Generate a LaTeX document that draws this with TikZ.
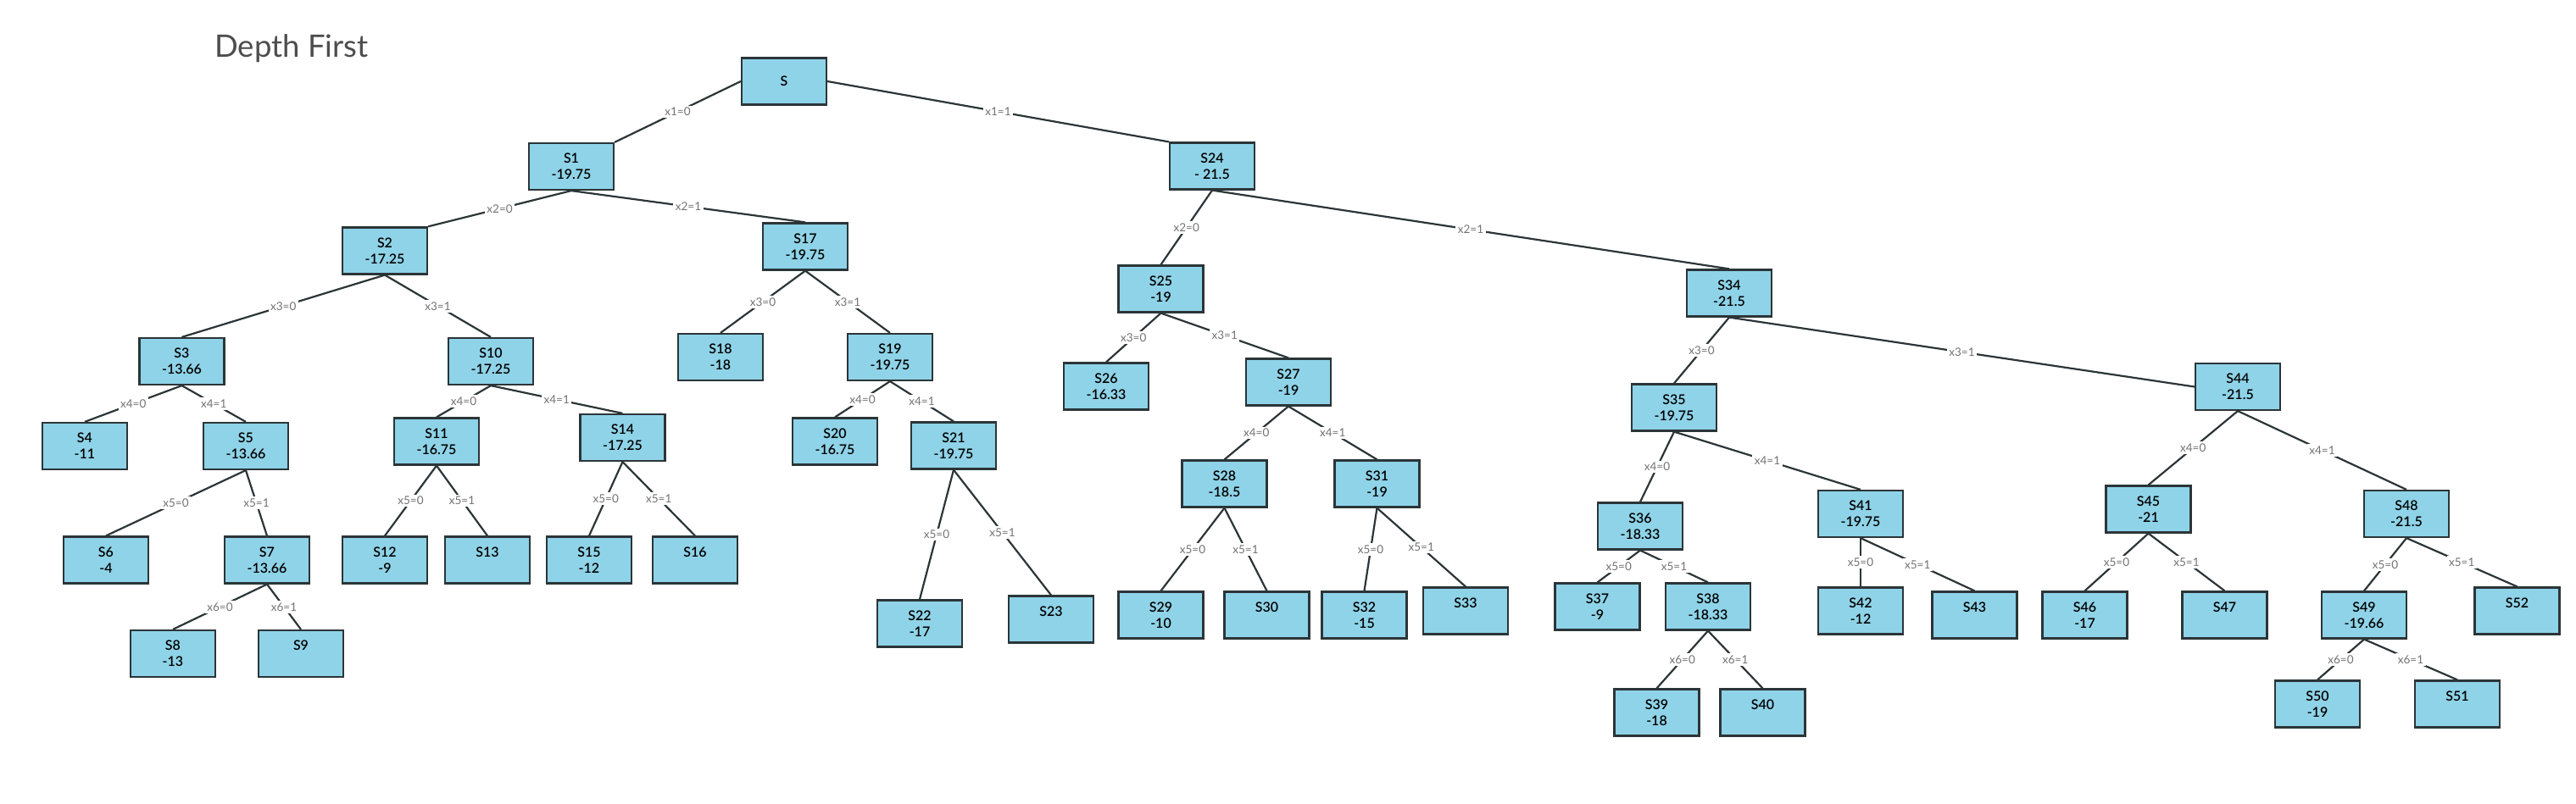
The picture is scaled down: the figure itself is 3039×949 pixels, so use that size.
\documentclass[tikz,border=0pt]{standalone}
\usepackage{fontspec}
\setmainfont{Lato}
\newfontfamily\semib{Lato Semibold}
\definecolor{bl}{RGB}{143,211,232}
\definecolor{bd}{RGB}{43,53,56}
\definecolor{lbc}{RGB}{115,115,115}
\definecolor{ttc}{RGB}{77,77,77}
\tikzset{
  st/.style={draw=bd, fill=bl, line width=2.2pt, minimum width=100pt, minimum height=55pt,
    inner sep=0pt, align=center, font=\semib\fontsize{16}{19}\selectfont, text=black},
  ed/.style={draw=bd, line width=2.2pt},
  lb/.style={fill=white, text=lbc, font=\fontsize{13.5}{15}\selectfont, inner sep=2.5pt}
}
\begin{document}
\begin{tikzpicture}[x=1pt,y=-1pt]
\useasboundingbox (0,0) rectangle (3039,949);
\node[anchor=base west, text=ttc, font=\fontsize{36.5}{42}\selectfont, inner sep=0pt] (title) at (253,68) {Depth First};
% level 0-1
\node[st] (S) at (925,96) {S};
\node[st] (S1) at (674,196.5) {S1\\-19.75};
\node[st] (S24) at (1430,196) {S24\\- 21.5};
% level 2
\node[st] (S2) at (454,296) {S2\\-17.25};
\node[st] (S17) at (950,291) {S17\\-19.75};
\node[st] (S25) at (1369.5,341) {S25\\-19};
\node[st] (S34) at (2040,346) {S34\\-21.5};
% level 3
\node[st] (S3) at (214.5,426.5) {S3\\-13.66};
\node[st] (S10) at (579,426.5) {S10\\-17.25};
\node[st] (S18) at (850,421.5) {S18\\-18};
\node[st] (S19) at (1050,421.5) {S19\\-19.75};
\node[st] (S26) at (1305,456) {S26\\-16.33};
\node[st] (S27) at (1520,451) {S27\\-19};
\node[st] (S35) at (1975,481) {S35\\-19.75};
\node[st] (S44) at (2640,456.5) {S44\\-21.5};
% level 4
\node[st] (S4) at (100,526.5) {S4\\-11};
\node[st] (S5) at (290,526.5) {S5\\-13.66};
\node[st] (S11) at (515,521) {S11\\-16.75};
\node[st] (S14) at (734.5,516.5) {S14\\-17.25};
\node[st] (S20) at (985,521) {S20\\-16.75};
\node[st] (S21) at (1125,526) {S21\\-19.75};
\node[st] (S28) at (1444.5,571) {S28\\-18.5};
\node[st] (S31) at (1624.5,571) {S31\\-19};
\node[st] (S36) at (1935,621) {S36\\-18.33};
\node[st] (S41) at (2195,606.5) {S41\\-19.75};
\node[st] (S45) at (2534.5,601) {S45\\-21};
\node[st] (S48) at (2839,606.5) {S48\\-21.5};
% level 5
\node[st] (S6) at (125,661) {S6\\-4};
\node[st] (S7) at (315,661) {S7\\-13.66};
\node[st] (S12) at (454,661) {S12\\-9};
\node[st] (S13) at (575,661) {S13\\~};
\node[st] (S15) at (695,661) {S15\\-12};
\node[st] (S16) at (820,661) {S16\\~};
\node[st] (S22) at (1085,736) {S22\\-17};
\node[st] (S23) at (1240,731) {S23\\~};
\node[st] (S29) at (1369.5,726) {S29\\-10};
\node[st] (S30) at (1494.5,726) {S30\\~};
\node[st] (S32) at (1609.5,726) {S32\\-15};
\node[st] (S33) at (1729,721) {S33\\~};
\node[st] (S37) at (1884.5,716) {S37\\-9};
\node[st] (S38) at (2015,716) {S38\\-18.33};
\node[st] (S42) at (2195,721) {S42\\-12};
\node[st] (S43) at (2329.5,726) {S43\\~};
\node[st] (S46) at (2459.5,726) {S46\\-17};
\node[st] (S47) at (2624.5,726) {S47\\~};
\node[st] (S49) at (2789,726) {S49\\-19.66};
\node[st] (S52) at (2969.5,721) {S52\\~};
% level 6
\node[st] (S8) at (204,771.5) {S8\\-13};
\node[st] (S9) at (355,771.5) {S9\\~};
\node[st] (S39) at (1954.5,841) {S39\\-18};
\node[st] (S40) at (2079.5,841) {S40\\~};
\node[st] (S50) at (2734,831) {S50\\-19};
\node[st] (S51) at (2899,831) {S51\\~};
% connectors
\draw[ed] (S.west) -- node[lb]{x1=0} (S1.north east);
\draw[ed] (S.east) -- node[lb]{x1=1} (S24.north west);
\draw[ed] (S1.south) -- node[lb]{x2=0} (S2.north east);
\draw[ed] (S1.south) -- node[lb]{x2=1} (S17.north);
\draw[ed] (S2.south) -- node[lb]{x3=0} (S3.north);
\draw[ed] (S2.south) -- node[lb]{x3=1} (S10.north);
\draw[ed] (S3.south) -- node[lb]{x4=0} (S4.north);
\draw[ed] (S3.south) -- node[lb]{x4=1} (S5.north);
\draw[ed] (S5.south) -- node[lb]{x5=0} (S6.north);
\draw[ed] (S5.south) -- node[lb]{x5=1} (S7.north);
\draw[ed] (S7.south) -- node[lb]{x6=0} (S8.north);
\draw[ed] (S7.south) -- node[lb]{x6=1} (S9.north);
\draw[ed] (S10.south) -- node[lb]{x4=0} (S11.north);
\draw[ed] (S10.south) -- node[lb]{x4=1} (S14.north);
\draw[ed] (S11.south) -- node[lb]{x5=0} (S12.north);
\draw[ed] (S11.south) -- node[lb]{x5=1} (S13.north);
\draw[ed] (S14.south) -- node[lb]{x5=0} (S15.north);
\draw[ed] (S14.south) -- node[lb]{x5=1} (S16.north);
\draw[ed] (S17.south) -- node[lb]{x3=0} (S18.north);
\draw[ed] (S17.south) -- node[lb]{x3=1} (S19.north);
\draw[ed] (S19.south) -- node[lb]{x4=0} (S20.north);
\draw[ed] (S19.south) -- node[lb]{x4=1} (S21.north);
\draw[ed] (S21.south) -- node[lb]{x5=0} (S22.north);
\draw[ed] (S21.south) -- node[lb]{x5=1} (S23.north);
\draw[ed] (S24.south) -- node[lb]{x2=0} (S25.north);
\draw[ed] (S24.south) -- node[lb]{x2=1} (S34.north);
\draw[ed] (S25.south) -- node[lb]{x3=0} (S26.north);
\draw[ed] (S25.south) -- node[lb]{x3=1} (S27.north);
\draw[ed] (S27.south) -- node[lb]{x4=0} (S28.north);
\draw[ed] (S27.south) -- node[lb]{x4=1} (S31.north);
\draw[ed] (S28.south) -- node[lb]{x5=0} (S29.north);
\draw[ed] (S28.south) -- node[lb]{x5=1} (S30.north);
\draw[ed] (S31.south) -- node[lb]{x5=0} (S32.north);
\draw[ed] (S31.south) -- node[lb]{x5=1} (S33.north);
\draw[ed] (S34.south) -- node[lb]{x3=0} (S35.north);
\draw[ed] (S34.south) -- node[lb]{x3=1} (S44.west);
\draw[ed] (S35.south) -- node[lb]{x4=0} (S36.north);
\draw[ed] (S35.south) -- node[lb]{x4=1} (S41.north);
\draw[ed] (S36.south) -- node[lb]{x5=0} (S37.north);
\draw[ed] (S36.south) -- node[lb]{x5=1} (S38.north);
\draw[ed] (S38.south) -- node[lb]{x6=0} (S39.north);
\draw[ed] (S38.south) -- node[lb]{x6=1} (S40.north);
\draw[ed] (S41.south) -- node[lb]{x5=0} (S42.north);
\draw[ed] (S41.south) -- node[lb]{x5=1} (S43.north);
\draw[ed] (S44.south) -- node[lb]{x4=0} (S45.north);
\draw[ed] (S44.south) -- node[lb]{x4=1} (S48.north);
\draw[ed] (S45.south) -- node[lb]{x5=0} (S46.north);
\draw[ed] (S45.south) -- node[lb]{x5=1} (S47.north);
\draw[ed] (S48.south) -- node[lb]{x5=0} (S49.north);
\draw[ed] (S48.south) -- node[lb]{x5=1} (S52.north);
\draw[ed] (S49.south) -- node[lb]{x6=0} (S50.north);
\draw[ed] (S49.south) -- node[lb]{x6=1} (S51.north);
\end{tikzpicture}
\end{document}
